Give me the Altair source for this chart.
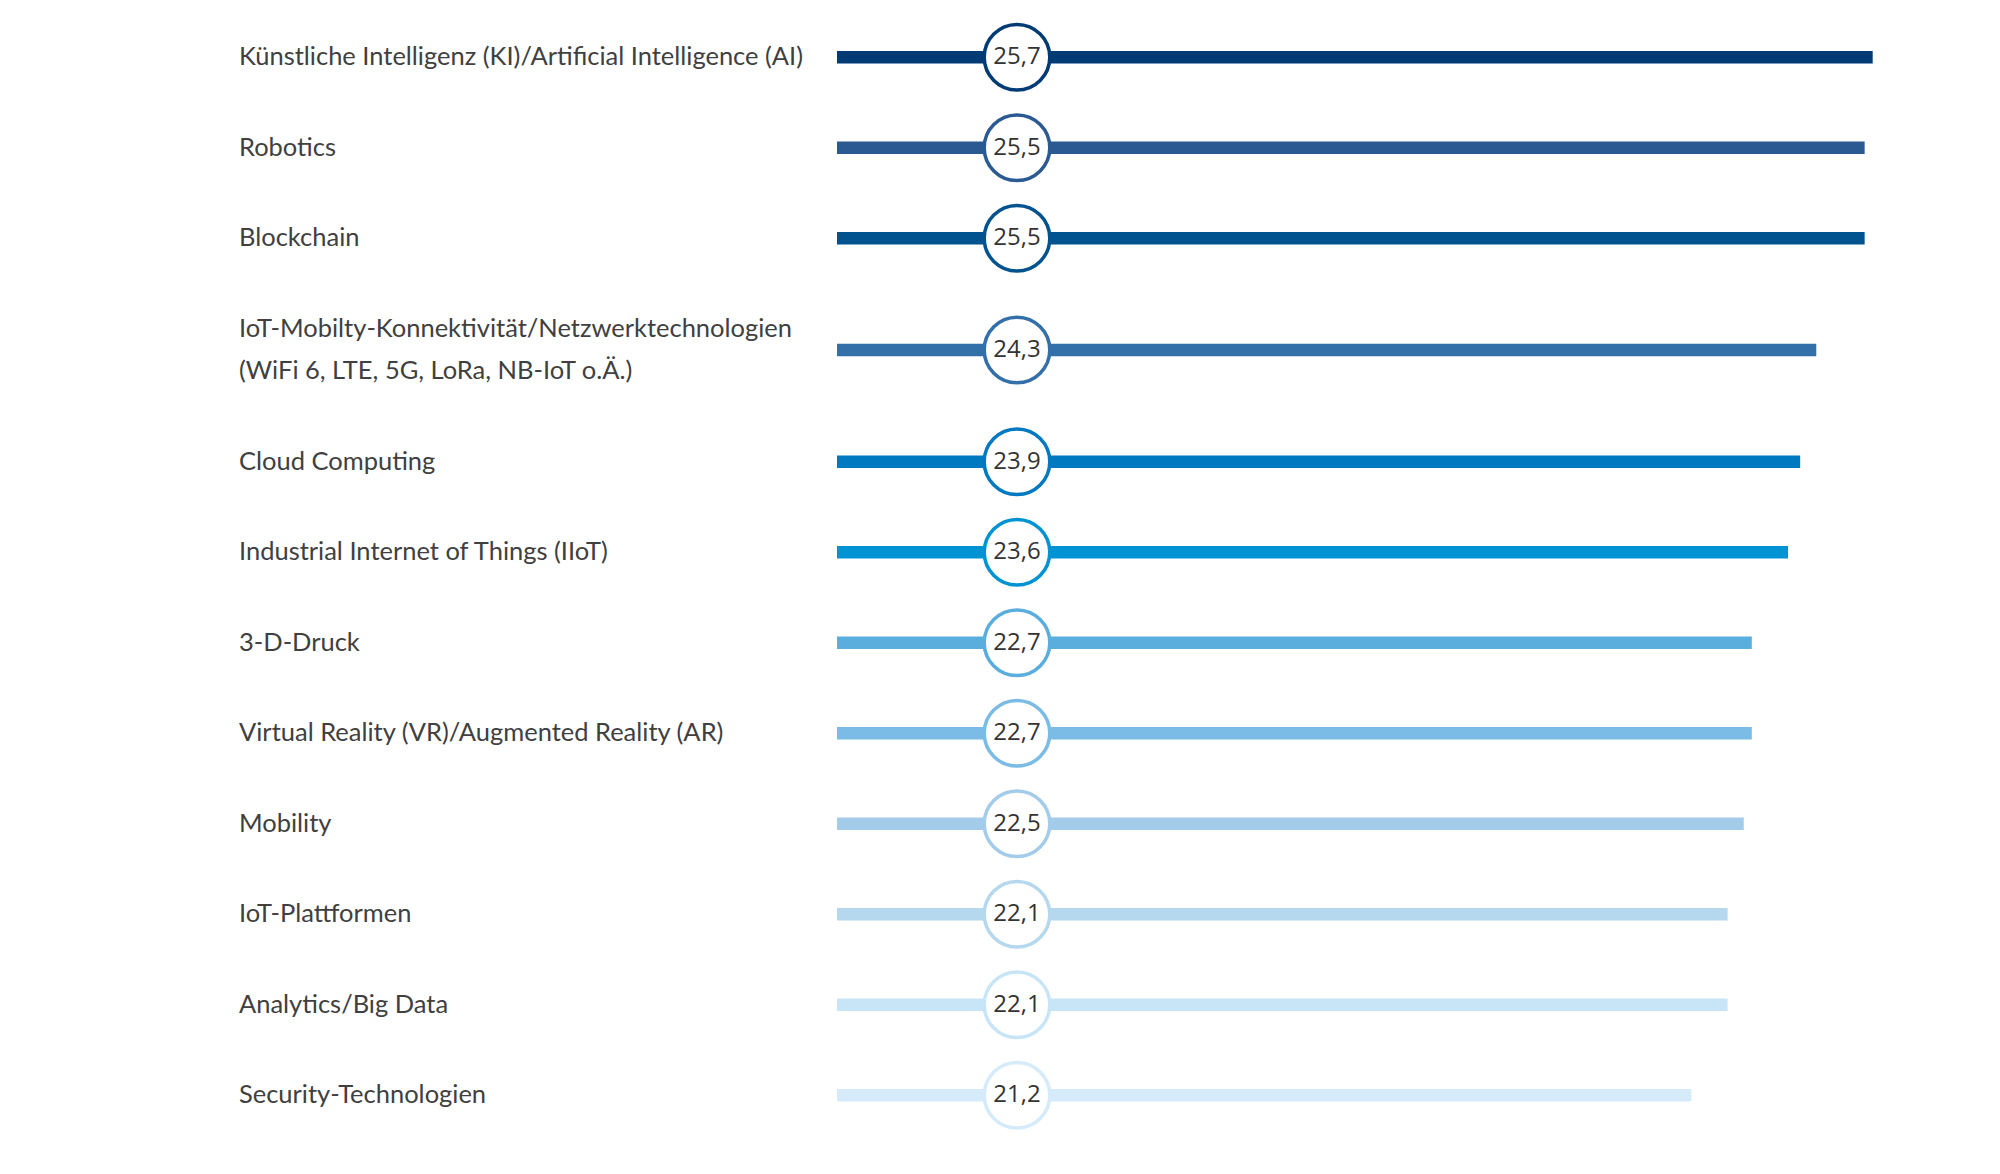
import altair as alt
import pandas as pd

# Technology topics (top to bottom), their scores and bar colours
categories = [
    "Künstliche Intelligenz (KI)/Artificial Intelligence (AI)",
    "Robotics",
    "Blockchain",
    "IoT-Mobilty-Konnektivität/Netzwerktechnologien\n(WiFi 6, LTE, 5G, LoRa, NB-IoT o.Ä.)",
    "Cloud Computing",
    "Industrial Internet of Things (IIoT)",
    "3-D-Druck",
    "Virtual Reality (VR)/Augmented Reality (AR)",
    "Mobility",
    "IoT-Plattformen",
    "Analytics/Big Data",
    "Security-Technologien",
]
values = [25.7, 25.5, 25.5, 24.3, 23.9, 23.6, 22.7, 22.7, 22.5, 22.1, 22.1, 21.2]
colors = [
    "#003b75", "#2b5a92", "#00538f", "#336fa8", "#0079c1", "#0093d3",
    "#5aaede", "#7bbce6", "#a3cbea", "#b6d8ef", "#c8e5f8", "#d5ebf9",
]

# Rows with a two-line label get more vertical room
EXTRA_PER_LINE = 0.47
LINE_HEIGHT = 42
n_lines = [c.count("\n") + 1 for c in categories]
weights = [1 + EXTRA_PER_LINE * (n - 1) for n in n_lines]
positions = []
acc = 0.0
for w in weights:
    positions.append(acc + w / 2)
    acc += w
total = acc

df = pd.DataFrame({
    "category": categories,
    "value": values,
    "pos": positions,
    "lines": n_lines,
    "start": [0] * len(values),
})
df["lbl"] = df["value"].map(lambda v: f"{v:.1f}".replace(".", ","))

UNIT_PX = 90.5
PX_PER_VALUE = 40.3
X_MAX = 28
W = X_MAX * PX_PER_VALUE
H = total * UNIT_PX
MARKER_X = 180

x_scale = alt.Scale(domain=[0, X_MAX], nice=False, zero=True)
y_scale = alt.Scale(domain=[0, total], nice=False, zero=False, reverse=True)
col_scale = alt.Scale(domain=categories, range=colors)
y_enc = alt.Y("pos:Q", scale=y_scale, axis=None)

base = alt.Chart(df)

bars = base.mark_rule(strokeWidth=12.5, strokeCap="butt").encode(
    x=alt.X("start:Q", scale=x_scale, axis=None),
    x2="value:Q",
    y=y_enc,
    color=alt.Color("category:N", scale=col_scale, legend=None),
)

markers = base.mark_point(
    shape="circle", fill="white", fillOpacity=1, strokeWidth=3.5, size=4300, opacity=1
).encode(
    x=alt.value(MARKER_X),
    y=y_enc,
    stroke=alt.Stroke("category:N", scale=col_scale, legend=None),
)

numbers = base.mark_text(
    font="Open Sans", fontSize=24, color="#333333", align="center", baseline="middle"
).encode(
    x=alt.value(MARKER_X),
    y=y_enc,
    text="lbl:N",
)

label_style = dict(
    font="Lato", fontSize=25.5, color="#404040", align="left", baseline="middle",
    lineBreak="\n", lineHeight=LINE_HEIGHT,
)
labels_single = base.transform_filter("datum.lines == 1").mark_text(**label_style).encode(
    x=alt.value(239 - 837),
    y=y_enc,
    text="category:N",
)
labels_double = base.transform_filter("datum.lines == 2").mark_text(
    dy=-LINE_HEIGHT / 2, **label_style
).encode(
    x=alt.value(239 - 837),
    y=y_enc,
    text="category:N",
)

chart = alt.layer(bars, markers, numbers, labels_single, labels_double).properties(
    width=W,
    height=H,
    padding={"left": 837, "top": 12, "right": 0, "bottom": 0},
    autosize=alt.AutoSizeParams(type="none"),
    background="white",
).configure_view(stroke=None)

chart.save("out.html", embed_options={"renderer": "svg", "actions": False})
